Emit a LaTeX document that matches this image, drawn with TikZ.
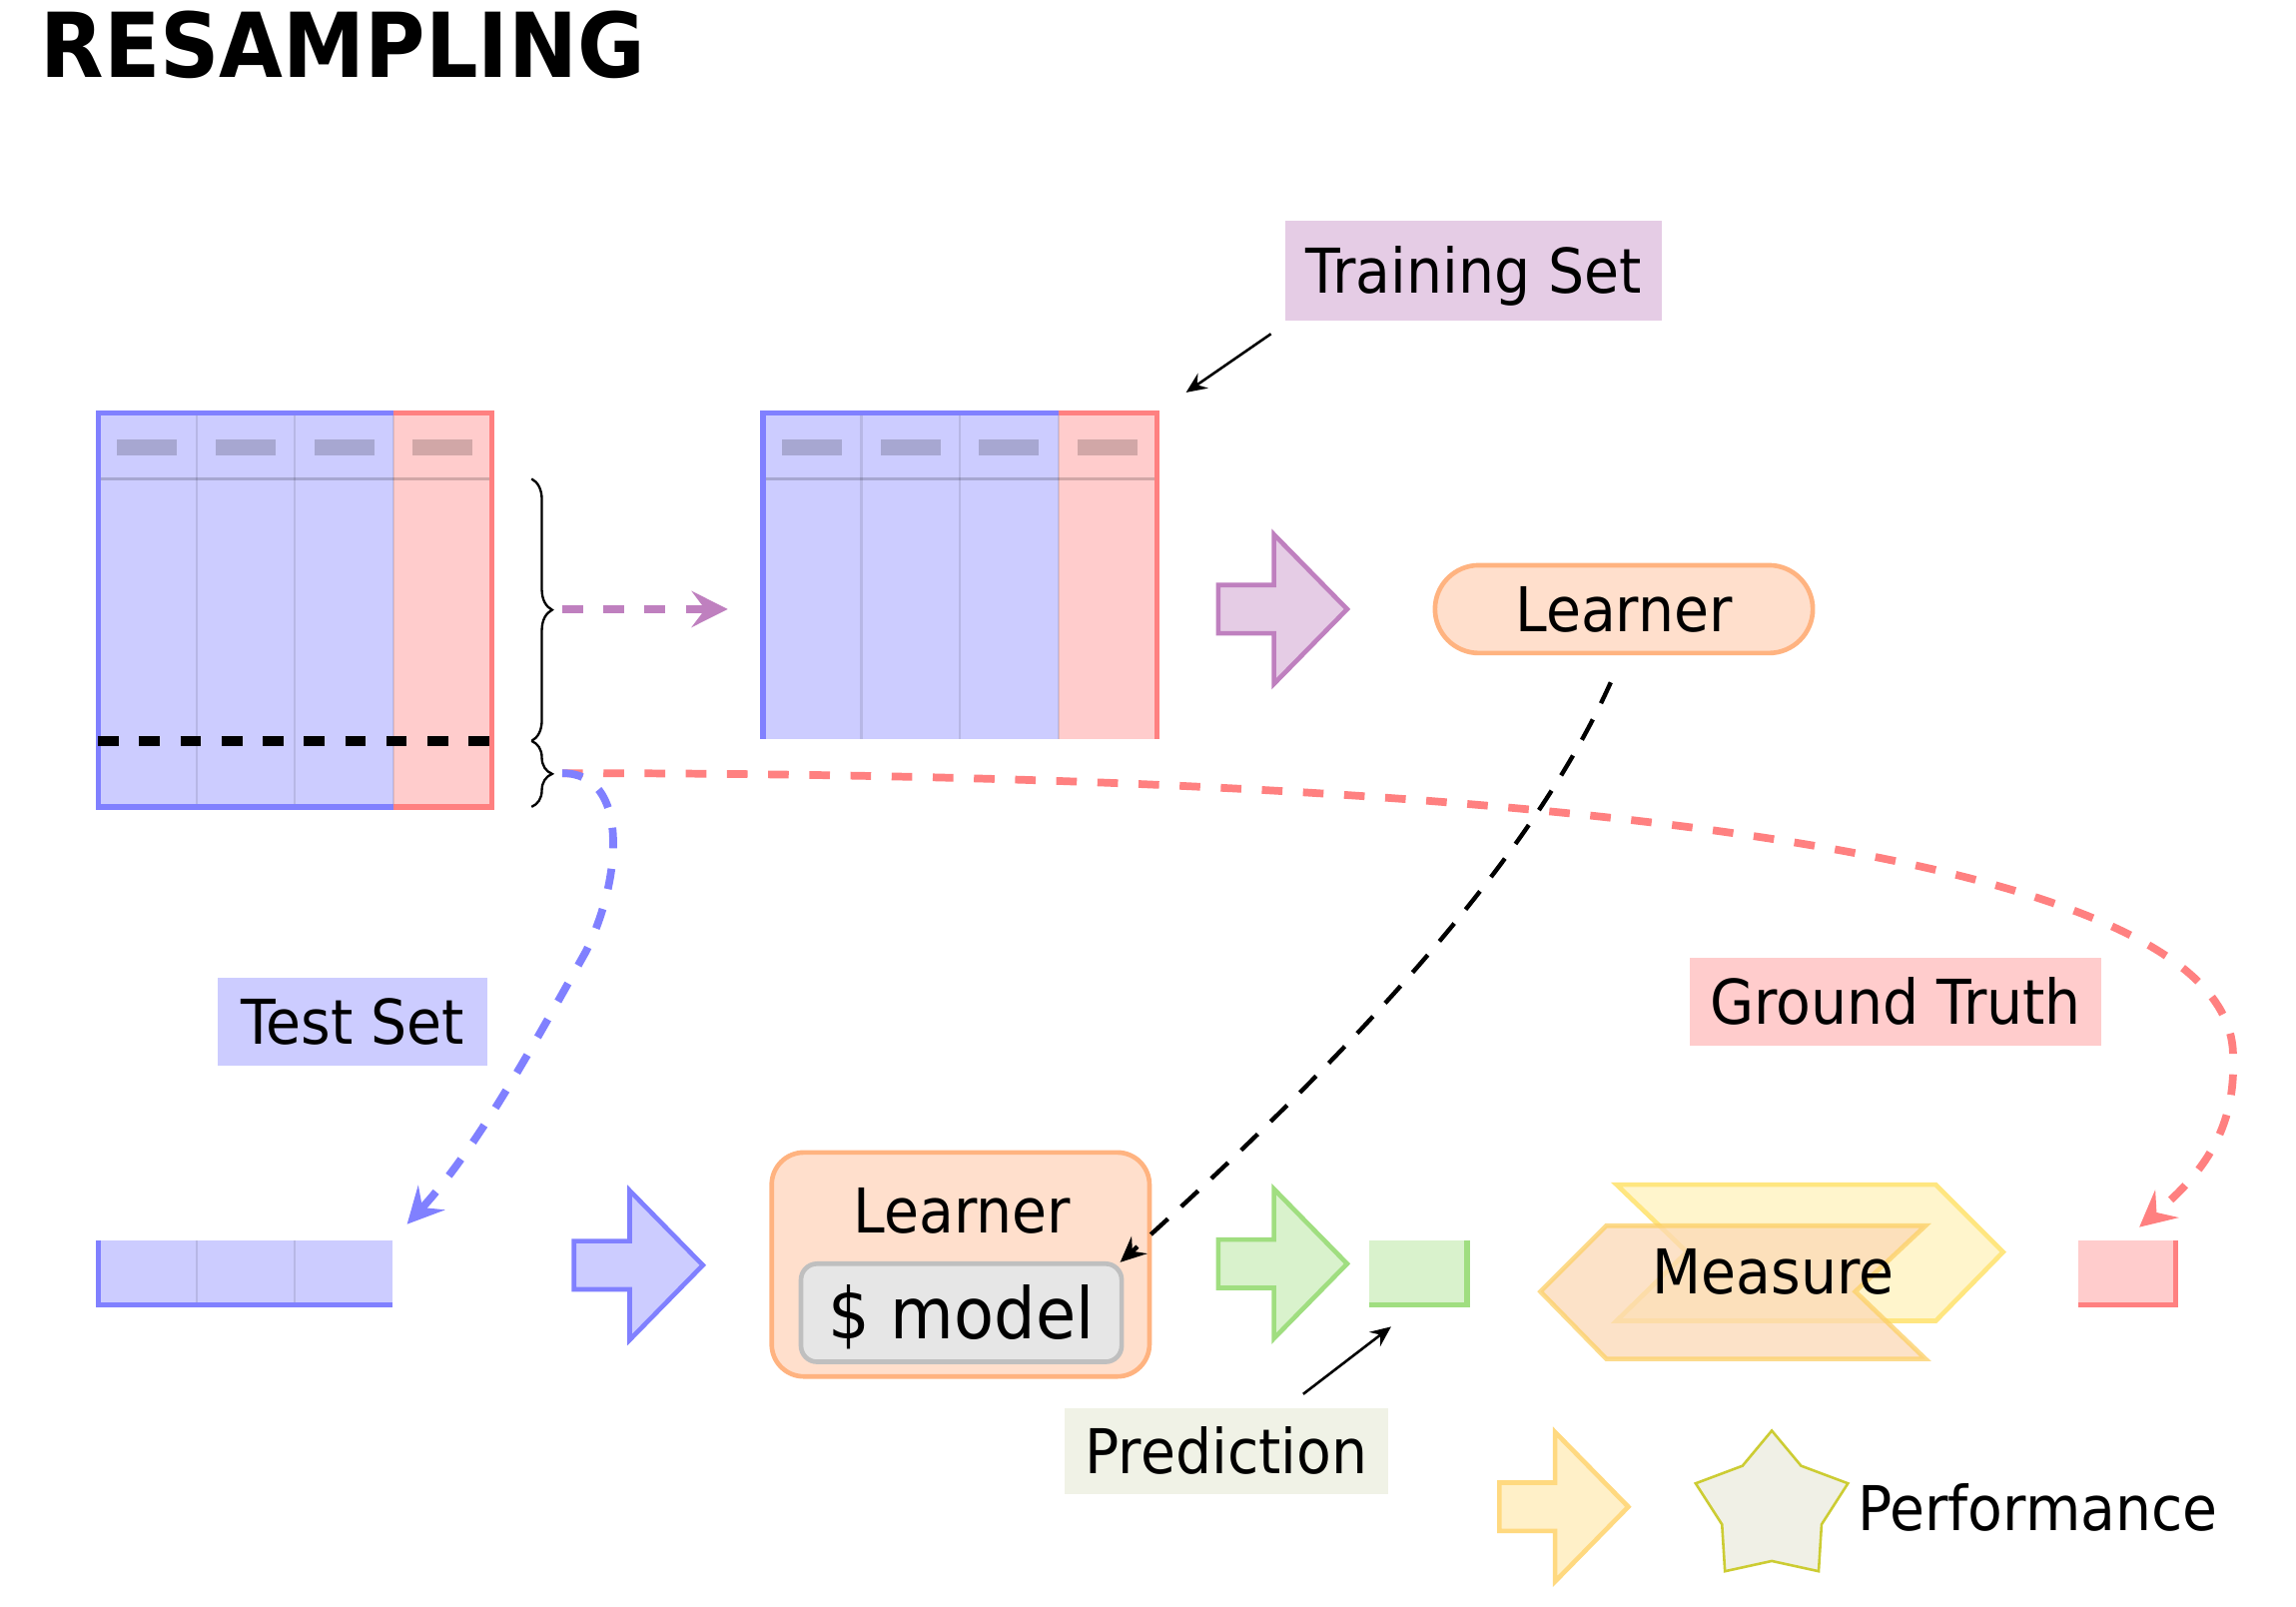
\documentclass[tikz,border=0pt]{standalone}
\usepackage{fontspec}
\setmainfont{DejaVu Sans}[FakeStretch=0.92]
\usetikzlibrary{arrows.meta,decorations.pathreplacing}
\definecolor{bfill}{HTML}{CCCCFF}
\definecolor{bline}{HTML}{8080FF}
\definecolor{rfill}{HTML}{FFCCCC}
\definecolor{rline}{HTML}{FF8080}
\definecolor{pfill}{HTML}{E5CCE5}
\definecolor{pline}{HTML}{BF80BF}
\definecolor{ofill}{HTML}{FFDFCC}
\definecolor{oline}{HTML}{FFB380}
\definecolor{gfill}{HTML}{D9F2CC}
\definecolor{gline}{HTML}{A0DE80}
\definecolor{yfill}{HTML}{FFF5CC}
\definecolor{yline}{HTML}{FFE680}
\definecolor{mfill}{HTML}{FCD9B6}
\definecolor{mline}{HTML}{FCD066}
\definecolor{yafill}{HTML}{FFF0C8}
\definecolor{yaline}{HTML}{FFD980}
\definecolor{predfill}{HTML}{F0F2E6}
\definecolor{starfill}{HTML}{F0F0E6}
\definecolor{starline}{HTML}{CCCC33}
\definecolor{modfill}{HTML}{E6E6E6}
\definecolor{modline}{HTML}{BFBFBF}
\newcommand\lblsize{\fontsize{12}{14}\selectfont}
\newcommand\modsize{\fontsize{13.8}{16}\selectfont}
\newcommand\ttlsize{\fontsize{17.4}{20}\selectfont}
\newcommand\blockarr[3]{\draw[blockst,#3] (#1,#2-16.5) -- (#1+38,#2-16.5) -- (#1+38,#2-51) -- (#1+88,#2) -- (#1+38,#2+51) -- (#1+38,#2+16.5) -- (#1,#2+16.5) -- cycle;}
\begin{document}
\begin{tikzpicture}[x=0.1mm,y=-0.1mm,
  lbl/.style={inner sep=0pt, font=\lblsize, text height=8.7pt, text depth=0pt},
  lblbox/.style={lbl, minimum height=6mm},
  tborder/.style={line width=1.05pt},
  colsep/.style={draw=black, draw opacity=0.1, line width=0.4pt},
  hdrline/.style={draw=black, draw opacity=0.18, line width=0.6pt},
  hdrbar/.style={fill=black, fill opacity=0.18},
  splitline/.style={line width=2pt, dash pattern=on 4pt off 4pt},
  bracest/.style={line width=0.45pt, decorate, decoration={brace, amplitude=4pt}},
  dashconn/.style={line width=1.5pt, dash pattern=on 4pt off 4pt, -{Stealth[length=7pt,width=7pt,inset=2.6pt]}},
  blackdash/.style={line width=0.85pt, dash pattern=on 4.5pt off 3.5pt, -{Stealth[length=5pt,width=4.5pt,inset=1.8pt]}},
  ptr/.style={line width=0.5pt, -{Stealth[length=4pt,width=3.5pt,inset=1.4pt]}},
  blockst/.style={line width=0.9pt, line join=miter},
  learnst/.style={fill=ofill, draw=oline, line width=0.9pt},
]
\fill[white] (0,0) rectangle (1568,1097);
\useasboundingbox (0,0) rectangle (1568,1097);

% title
\node[anchor=base west, inner sep=0pt, font=\ttlsize\bfseries] (title) at (27,53) {RESAMPLING};

% full data table
\fill[bfill] (67,282) rectangle (268.75,551);
\fill[rfill] (268.75,282) rectangle (336,551);
\foreach \c in {134.25,201.5,268.75} \draw[colsep] (\c,282) -- (\c,551);
\draw[hdrline] (67,327) -- (336,327);
\foreach \c in {67,134.25,201.5,268.75} \fill[hdrbar] (\c+13,300) rectangle (\c+54,311);
\draw[tborder,bline] (268.75,282) -- (67,282) -- (67,551) -- (268.75,551);
\draw[tborder,rline] (268.75,282) -- (336,282) -- (336,551) -- (268.75,551);
\draw[splitline] (67,506) -- (336,506);

% braces
\draw[bracest] (363,327) -- (363,506);
\draw[bracest] (363,506) -- (363,551);
\coordinate (bigtip) at (384,416);
\coordinate (smalltip) at (384,528);

% training table
\fill[bfill] (521,282) rectangle (722.75,505);
\fill[rfill] (722.75,282) rectangle (790,505);
\foreach \c in {588.25,655.5,722.75} \draw[colsep] (\c,282) -- (\c,505);
\draw[hdrline] (521,327) -- (790,327);
\foreach \c in {521,588.25,655.5,722.75} \fill[hdrbar] (\c+13,300) rectangle (\c+54,311);
\draw[tborder,bline] (722.75,282) -- (521,282) -- (521,505);
\draw[tborder,rline] (722.75,282) -- (790,282) -- (790,505);
\coordinate (trainin) at (497,416);
\coordinate (traincorner) at (810,268);

% training set label
\node[lblbox, fill=pfill, minimum width=25.7mm, minimum height=6.8mm] (trainlbl) at (1006.5,185) {Training Set};
\coordinate (trainptr) at (868,228);
\draw[ptr] (trainptr) -- (traincorner);

% block arrow -> learner
\blockarr{832}{416}{fill=pfill, draw=pline}
\node[lbl, learnst, minimum width=25.8mm, minimum height=6mm, rounded corners=3mm] (learner1) at (1109,416) {Learner};
\coordinate (learnout) at (1100,466);

% test set label
\node[lblbox, fill=bfill, minimum width=18.4mm] (testlbl) at (241,698) {Test Set};
% ground truth label
\node[lblbox, fill=rfill, minimum width=28.1mm] (gtlbl) at (1294.5,684) {Ground Truth};

% test bar
\fill[bfill] (67,847) rectangle (268,891);
\foreach \c in {134.25,201.5} \draw[colsep] (\c,847) -- (\c,891);
\draw[tborder,bline] (67,847) -- (67,891) -- (268,891);
\coordinate (testin) at (278,836);

\blockarr{392}{864}{fill=bfill, draw=bline}

% learner with model
\node[learnst, minimum width=25.8mm, minimum height=15.3mm, rounded corners=2.2mm] (learner2) at (656,863.5) {};
\node[lbl] (learner2lbl) at (657,827) {Learner};
\node[fill=modfill, draw=modline, line width=0.9pt, inner sep=0pt, minimum width=21.9mm, minimum height=6.7mm, rounded corners=1.1mm, font=\modsize, text height=10.2pt, text depth=0pt] (model) at (656.5,896.5) {\$ model};
\coordinate (modelin) at (765,862);

\blockarr{832}{863}{fill=gfill, draw=gline}

% prediction square
\fill[gfill] (935,847) rectangle (1002,891);
\draw[tborder,gline] (1002,847) -- (1002,891) -- (935,891);
\coordinate (predcorner) at (950,906);
\node[lblbox, fill=predfill, minimum width=22.1mm, minimum height=5.8mm] (predlbl) at (837.5,991) {Prediction};
\coordinate (predptr) at (890,952);
\draw[ptr] (predptr) -- (predcorner);

% measure chevrons
\draw[fill=yfill, draw=yline, line width=0.9pt, line join=miter] (1104,809) -- (1322,809) -- (1368,855) -- (1322,902) -- (1104,902) -- (1152,855) -- cycle;
\draw[fill=mfill, draw=mline, line width=0.9pt, line join=miter, fill opacity=0.75, draw opacity=0.75] (1097,837) -- (1315,837) -- (1267,882) -- (1315,928) -- (1097,928) -- (1052,882) -- cycle;
\node[lbl] (measure) at (1211,868) {Measure};

% ground truth square
\fill[rfill] (1419,847) rectangle (1486,891);
\draw[tborder,rline] (1486,847) -- (1486,891) -- (1419,891);
\coordinate (gtin) at (1461,838);
\coordinate (gtbend) at (1525,723);

% performance
\blockarr{1024}{1029}{fill=yafill, draw=yaline}
\draw[fill=starfill, draw=starline, line width=0.5pt] (1210,977) -- (1230,1001) -- (1262,1013) -- (1244,1041) -- (1242,1073) -- (1210,1066) -- (1178,1073) -- (1176,1041) -- (1158,1013) -- (1190,1001) -- cycle;
\node[lbl, anchor=west] (perf) at (1268,1030) {Performance};

% connectors
\draw[dashconn, pline] (bigtip) -- (trainin);
\draw[dashconn, rline] (smalltip) .. controls (900,528) and (1530,560) .. (gtbend) .. controls (1527,775) and (1500,805) .. (gtin);
\draw[dashconn, bline] (smalltip) .. controls (430,528) and (425,600) .. (400,650) .. controls (362,718) and (325,785) .. (testin);
\draw[blackdash] (learnout) .. controls (1040,600) and (900,740) .. (modelin);
\end{tikzpicture}
\end{document}
